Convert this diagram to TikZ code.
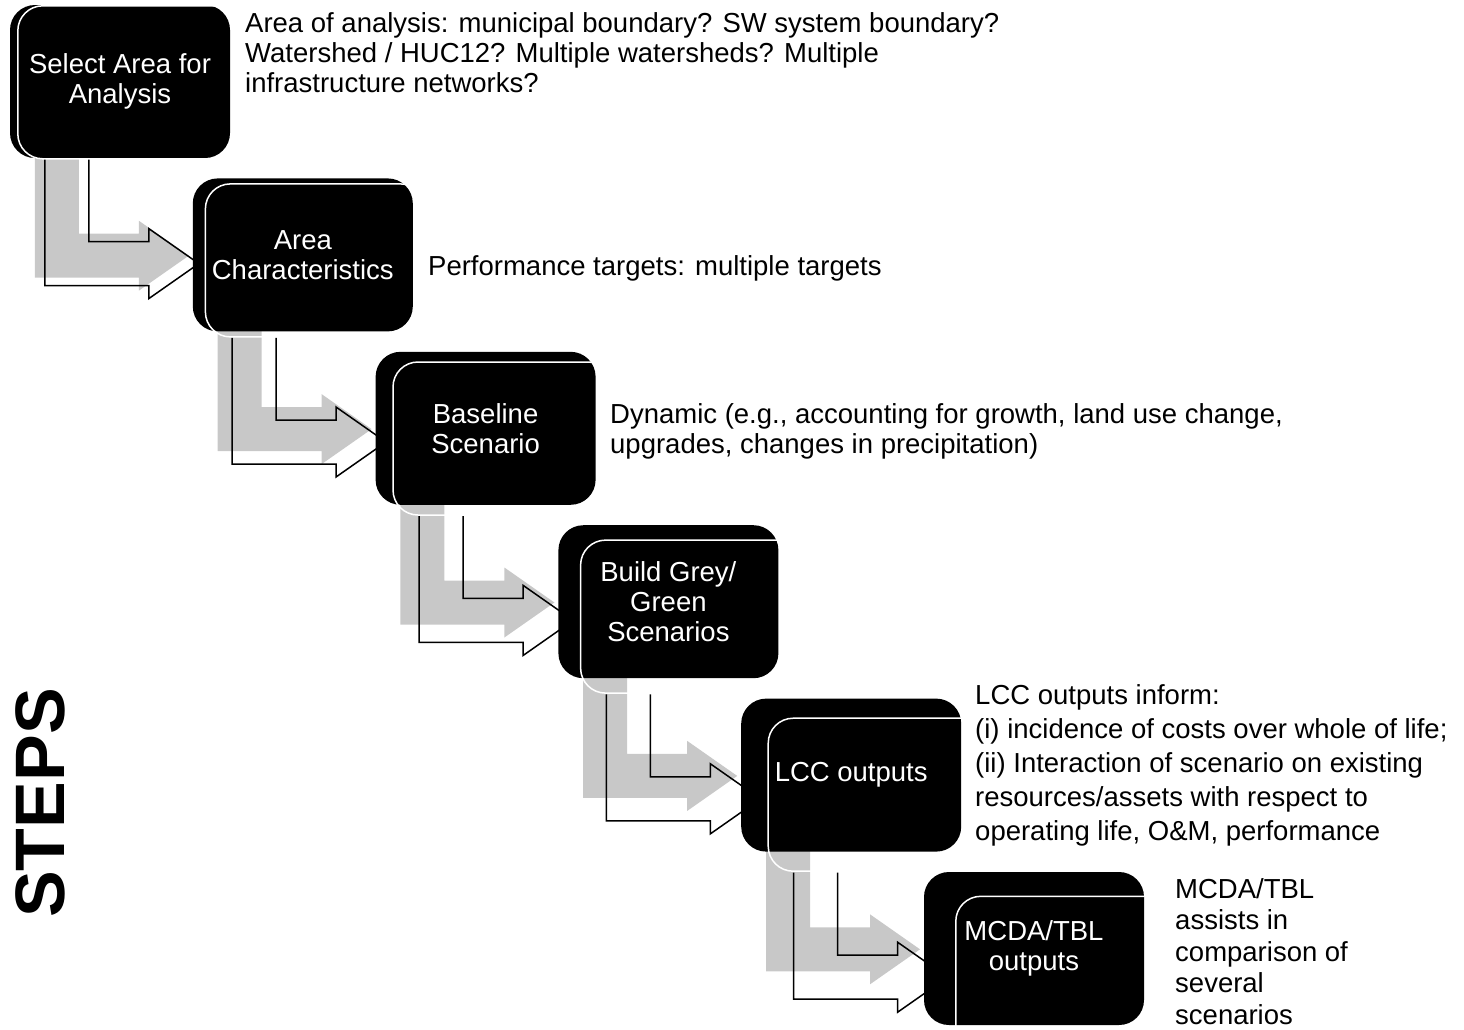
\documentclass[tikz,border=0pt]{standalone}
\usepackage{fontspec}
\setmainfont{Liberation Sans}
\usetikzlibrary{calc,backgrounds}

\definecolor{shadowgrey}{RGB}{200,200,200}

\tikzset{
  stepbox/.style={fill=black, text=white, rounded corners=25pt,
    minimum width=220pt, minimum height=153pt, inner sep=0pt,
    align=center, font=\fontsize{27.5}{30}\selectfont},
  rim/.style={draw=white, line width=1.5pt, rounded corners=25pt},
  note/.style={anchor=north west, inner sep=0pt, align=left,
    font=\fontsize{27.5}{30}\selectfont},
  greyarrow/.style={fill=shadowgrey},
  openarrow/.style={draw=black, line width=1.5pt}
}

\begin{document}
\begin{tikzpicture}[x=1pt,y=-1pt]
  \useasboundingbox (0,0) rectangle (1464,1029);

  % the six steps, down the stairs
  \foreach \txt [count=\i from 0] in {{Select Area for\\Analysis},
      {Area\\Characteristics},{Baseline\\Scenario},
      {Build Grey/\\Green\\Scenarios},{LCC outputs},{MCDA/TBL\\outputs}}
    \node[stepbox] (b\i) at (120+182.8*\i, 81.5+173.4*\i) {\txt};

  % white rim inside each step
  \foreach \i in {0,...,5} {
    \begin{scope}
      \clip (b\i.north west) rectangle ($(b\i.south east)+(0,40)$);
      \draw[rim] ($(b\i.north west)+(8+4.8*\i,1+4.7*\i)$) rectangle ++(220,153);
    \end{scope}
  }

  % bent arrows from one step to the next
  \begin{scope}[on background layer]
    \foreach \i in {0,...,4} {
      \begin{scope}[shift={(b\i.south west)}]
        \fill[greyarrow, shift={(25,75.5)}]
          (0,-80) -- (0,44) -- (104,44) -- (104,57) -- (154,22)
          -- (104,-13) -- (104,0) -- (44,0) -- (44,-80) -- cycle;
        \draw[openarrow, shift={(35+4.4*\i,83.4+5*\i)}]
          (0,-82.5) -- (0,44) -- (104,44) -- (104,57) -- (154,22)
          -- (104,-13) -- (104,0) -- (44,0) -- (44,-82.5);
      \end{scope}
    }
  \end{scope}

  % notes beside the steps
  \node[note] (n0) at (245,12) {Area of analysis: municipal boundary? SW system boundary?\\Watershed / HUC12? Multiple watersheds? Multiple\\infrastructure networks?};
  \node[note] (n1) at (428,255) {Performance targets: multiple targets};
  \node[note] (n2) at (610,403) {Dynamic (e.g., accounting for growth, land use change,\\upgrades, changes in precipitation)};
  \node[note, font=\fontsize{27.5}{34}\selectfont] (n4) at (975,684) {LCC outputs inform:\\(i) incidence of costs over whole of life;\\(ii) Interaction of scenario on existing\\resources/assets with respect to\\operating life, O\&M, performance};
  \node[note, font=\fontsize{27.5}{31.5}\selectfont] (n5) at (1175,878) {MCDA/TBL\\assists in\\comparison of\\several\\scenarios};

  \node[rotate=90, font=\bfseries\fontsize{70}{70}\selectfont] (steps) at (40,803) {STEPS};
\end{tikzpicture}
\end{document}
